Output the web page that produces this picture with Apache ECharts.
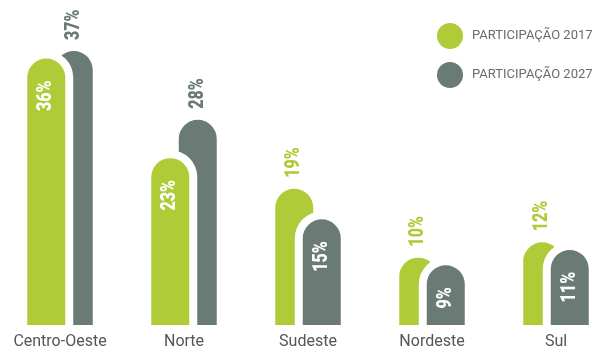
<!DOCTYPE html>
<html>
<head>
<meta charset="utf-8">
<script src="https://cdn.jsdelivr.net/npm/echarts@6/dist/echarts.min.js"></script>
<style>
  html, body { margin: 0; padding: 0; background: #ffffff; }
  #chart { width: 596px; height: 352px; }
</style>
</head>
<body>
<div id="chart"></div>
<script>
// Regional share, 2017 vs projected 2027 (percent)
const regions = ['Centro-Oeste', 'Norte', 'Sudeste', 'Nordeste', 'Sul'];
const share2017 = [36, 23, 19, 10, 12];
const share2027 = [37, 28, 15, 9, 11];
const seriesNames = ['PARTICIPAÇÃO 2017', 'PARTICIPAÇÃO 2027'];

const GREEN = '#afcb37';
const GRAY = '#6a7a75';
const Y_MIN = 1.2;          // bars rise from the bottom of the value axis
const BAR_FRAC = 38 / 124;  // bar width as a share of the category band
const SHIFT_FRAC = 13.75 / 124; // each bar's offset from the band centre
const OUTLINE = 8;          // white halo round the bar drawn in front
const LABEL_FONT = '900 20px Roboto, "DejaVu Sans", sans-serif';
const LABEL_SQUEEZE = 0.8;  // condense the value labels along their length

// The shorter bar of each pair sits in front, ringed in white.
function barRenderer(own, other, side, color) {
  return function (params, api) {
    const i = params.dataIndex;
    const cat = api.value(0);
    const v = api.value(1);
    const band = api.size([1, 0])[0];
    const base = api.coord([cat, Y_MIN]);
    const top = api.coord([cat, v]);
    const w = band * BAR_FRAC;
    const cx = base[0] + side * band * SHIFT_FRAC;
    const x = cx - w / 2;
    const y = top[1];
    const h = base[1] - top[1];
    const r = w / 2;
    const front = own[i] < other[i];
    const children = [];
    if (front) {
      children.push({
        type: 'rect', z2: 5,
        shape: { x: x - OUTLINE, y: y - OUTLINE, width: w + 2 * OUTLINE, height: h + OUTLINE,
                 r: [r + OUTLINE, r + OUTLINE, 0, 0] },
        style: { fill: '#ffffff' }
      });
    }
    children.push({
      type: 'rect', z2: front ? 6 : 1,
      shape: { x: x, y: y, width: w, height: h, r: [r, r, 0, 0] },
      style: { fill: color }
    });
    children.push({
      type: 'text', z2: front ? 7 : 2,
      x: cx, y: front ? y + 22 : y - 11,
      rotation: Math.PI / 2,
      scaleX: LABEL_SQUEEZE,
      style: {
        text: v + '%',
        fill: front ? '#ffffff' : color,
        font: LABEL_FONT,
        align: front ? 'right' : 'left',
        verticalAlign: 'middle'
      }
    });
    return { type: 'group', children: children };
  };
}

const chart = echarts.init(document.getElementById('chart'), null, { renderer: 'canvas' });
chart.setOption({
  animation: false,
  backgroundColor: '#ffffff',
  grid: { left: -2, right: -22, top: 28, bottom: 27, containLabel: false, outerBoundsMode: 'none' },
  legend: {
    orient: 'vertical',
    left: 437,
    top: 23,
    padding: 0,
    icon: 'circle',
    itemWidth: 26,
    itemHeight: 26,
    itemGap: 13,
    data: seriesNames,
    textStyle: {
      color: '#6b6b6b',
      fontSize: 13,
      fontFamily: 'Roboto, sans-serif',
      padding: [0, 0, 0, 4]
    }
  },
  xAxis: {
    type: 'category',
    data: regions,
    axisLine: { show: false },
    axisTick: { show: false },
    axisLabel: { color: '#555555', fontSize: 16, fontFamily: 'Roboto, sans-serif', margin: 9 },
    splitLine: { show: false }
  },
  yAxis: {
    type: 'value',
    min: Y_MIN,
    max: 40,
    show: false,
    splitLine: { show: false }
  },
  series: [
    {
      name: seriesNames[0],
      type: 'custom',
      itemStyle: { color: GREEN },
      encode: { x: 0, y: 1 },
      data: share2017.map((v, i) => [i, v]),
      renderItem: barRenderer(share2017, share2027, -1, GREEN)
    },
    {
      name: seriesNames[1],
      type: 'custom',
      itemStyle: { color: GRAY },
      encode: { x: 0, y: 1 },
      data: share2027.map((v, i) => [i, v]),
      renderItem: barRenderer(share2027, share2017, 1, GRAY)
    }
  ]
});
</script>
</body>
</html>
